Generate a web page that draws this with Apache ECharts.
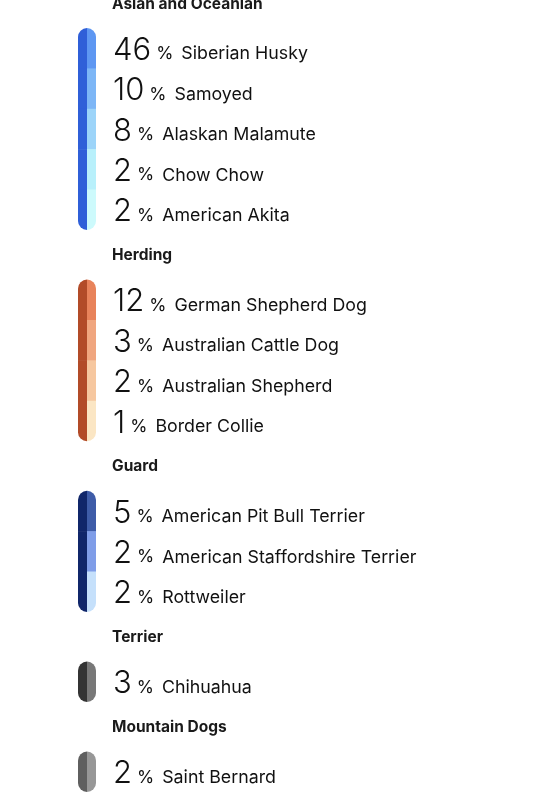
<!DOCTYPE html>
<html>
<head>
<meta charset="utf-8">
<script src="https://cdn.jsdelivr.net/npm/echarts@6/dist/echarts.min.js"></script>
<style>
  html, body { margin: 0; padding: 0; background: #fff; }
  #breed-chart { width: 545px; height: 800px; }
</style>
</head>
<body>
<div id="breed-chart"></div>
<script>
// breed mix
var groups = ["Asian and Oceanian", "Herding", "Guard", "Terrier", "Mountain Dogs"];
var groupColors = ["#2f5fd8", "#b24b28", "#10266a", "#343434", "#5f5f5f"];

var breeds = [
  "Siberian Husky", "Samoyed", "Alaskan Malamute", "Chow Chow", "American Akita",
  "German Shepherd Dog", "Australian Cattle Dog", "Australian Shepherd", "Border Collie",
  "American Pit Bull Terrier", "American Staffordshire Terrier", "Rottweiler",
  "Chihuahua",
  "Saint Bernard"
];
var breedGroup = [0, 0, 0, 0, 0, 1, 1, 1, 1, 2, 2, 2, 3, 4];
var shares = [46, 10, 8, 2, 2, 12, 3, 2, 1, 5, 2, 2, 3, 2];
var shadeColors = [
  "#5e97f2", "#7db6f6", "#9cd4f9", "#b8f0fb", "#cdfafc",
  "#e8835b", "#f0a67f", "#f6c79f", "#fbe6c4",
  "#3e5ca8", "#7f9de8", "#c5e0fb",
  "#787878",
  "#979797"
];

// layout in axis units (axis is 1:1 with the page)
var ROW = 40.4, HEAD = 49.6, TOP0 = 28;
var FONT = "Inter";

var rowData = breeds.map(function (name, i) {
  var g = breedGroup[i];
  var first = i === 0 || breedGroup[i - 1] !== g;
  var last = i === breeds.length - 1 || breedGroup[i + 1] !== g;
  return [i, g, shares[i], first ? 1 : 0, last ? 1 : 0];
});

function renderRow(params, api) {
  var i = api.value(0), g = api.value(1);
  var first = api.value(3) === 1, last = api.value(4) === 1;
  var yTop = TOP0 + i * ROW + g * HEAD;

  var a = api.coord([78, yTop]);
  var m = api.coord([87, yTop + ROW]);
  var b = api.coord([96, yTop + ROW]);
  var r = 9;
  var rl = [first ? r : 0, 0, 0, last ? r : 0];
  var rr = [0, first ? r : 0, last ? r : 0, 0];

  var txt = api.coord([113, yTop + 38]);
  var children = [
    { type: "rect", shape: { x: a[0], y: a[1], width: m[0] - a[0], height: m[1] - a[1] + (last ? 0 : 0.5), r: rl },
      style: { fill: groupColors[g] } },
    { type: "rect", shape: { x: m[0], y: a[1], width: b[0] - m[0], height: b[1] - a[1] + (last ? 0 : 0.5), r: rr },
      style: { fill: shadeColors[i] } },
    { type: "text", x: txt[0], y: txt[1],
      style: {
        text: "{n|" + api.value(2) + "}{p|%}{b|" + breeds[i] + "}",
        verticalAlign: "bottom", align: "left",
        rich: {
          n: { fontFamily: FONT, fontSize: 31, fontWeight: 350, fill: "#111", lineHeight: 18.6, verticalAlign: "bottom", padding: [0, 5, 0, 0] },
          p: { fontFamily: FONT, fontSize: 17.5, fill: "#111", lineHeight: 10.8, verticalAlign: "bottom", padding: [0, 8, 3, 0] },
          b: { fontFamily: FONT, fontSize: 17.8, fill: "#111", lineHeight: 10.8, verticalAlign: "bottom", padding: [0, 0, 3, 0] }
        }
      } }
  ];
  if (first) {
    var h = api.coord([112, yTop - 24]);
    children.push({ type: "text", x: h[0], y: h[1],
      style: { text: groups[g], fontFamily: FONT, fontSize: 15.5, fontWeight: "bold", fill: "#1a1a1a", verticalAlign: "middle", align: "left" } });
  }
  return { type: "group", children: children };
}

var myChart = echarts.init(document.getElementById("breed-chart"));
myChart.setOption({
  animation: false,
  grid: { left: 0, right: 0, top: 0, bottom: 0 },
  xAxis: { type: "value", min: 0, max: 545, show: false },
  yAxis: { type: "value", min: 0, max: 800, inverse: true, show: false },
  series: [{
    type: "custom",
    renderItem: renderRow,
    data: rowData,
    clip: false
  }]
});
</script>
</body>
</html>
